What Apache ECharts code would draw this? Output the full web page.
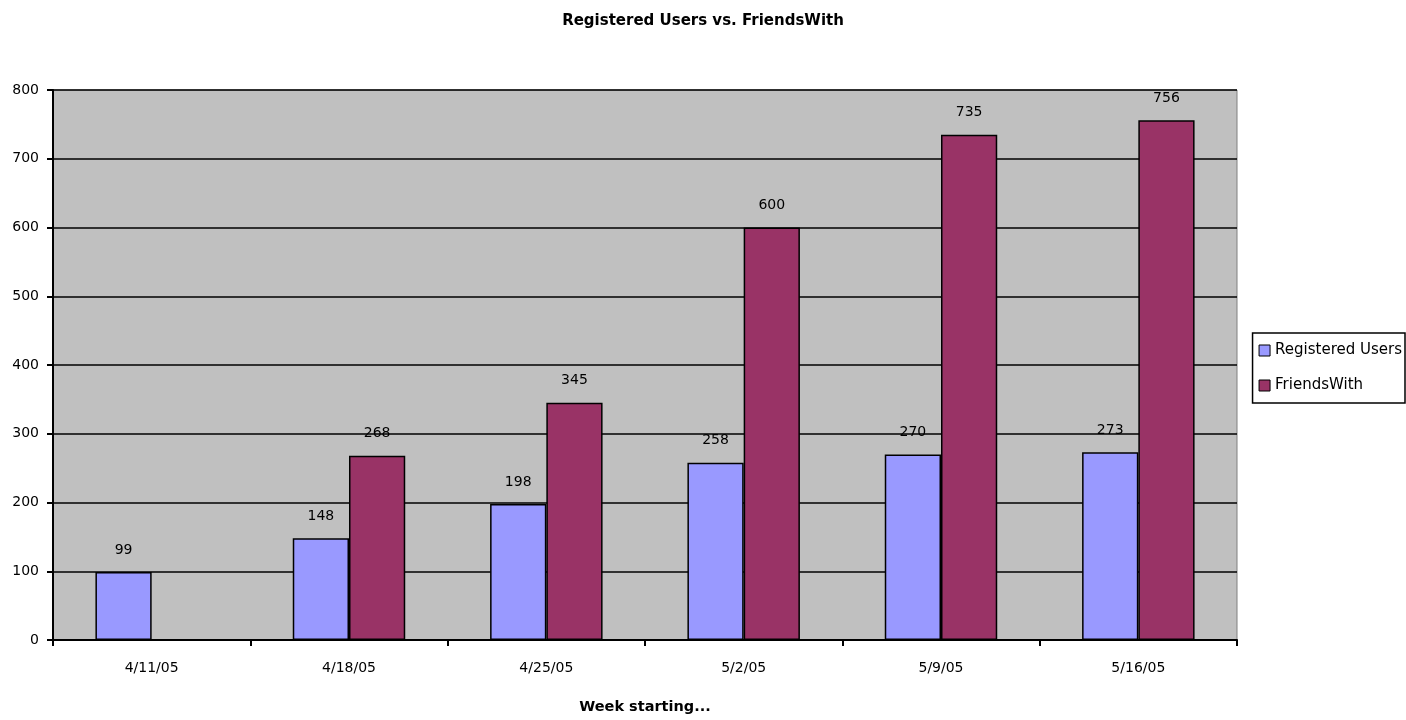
<!DOCTYPE html>
<html>
<head>
<meta charset="utf-8">
<script src="https://cdn.jsdelivr.net/npm/echarts@6/dist/echarts.min.js"></script>
<style>
  html, body { margin: 0; padding: 0; background: #ffffff; }
  #chart { width: 1406px; height: 720px; }
</style>
</head>
<body>
<div id="chart"></div>
<script>
// Weekly counts of registered users and FriendsWith connections
const weeks = ['4/11/05', '4/18/05', '4/25/05', '5/2/05', '5/9/05', '5/16/05'];
const registeredUsers = [99, 148, 198, 258, 270, 273];
const friendsWith = [null, 268, 345, 600, 735, 756];

const FONT = '"DejaVu Sans", "Liberation Sans", Arial, sans-serif';

const chart = echarts.init(document.getElementById('chart'), null, { renderer: 'canvas' });

const labelStyle = {
  show: true,
  position: 'top',
  distance: 15,
  color: '#000',
  fontFamily: FONT,
  fontSize: 14
};

chart.setOption({
  backgroundColor: '#ffffff',
  animation: false,
  title: {
    text: 'Registered Users vs. FriendsWith',
    left: 'center',
    top: 9,
    textStyle: { fontFamily: FONT, fontSize: 15, fontWeight: 'bold', color: '#000' }
  },
  legend: {
    orient: 'vertical',
    right: 1,
    top: 333,
    itemWidth: 11,
    itemHeight: 11,
    itemGap: 20,
    padding: [10, 3, 10, 6],
    borderColor: '#000',
    borderWidth: 1.5,
    backgroundColor: '#fff',
    icon: 'rect',
    textStyle: { fontFamily: FONT, fontSize: 15, color: '#000' },
    itemStyle: { borderColor: '#000', borderWidth: 1 },
    data: ['Registered Users', 'FriendsWith']
  },
  grid: {
    left: 53,
    right: 169,
    top: 90,
    bottom: 74,
    show: true,
    backgroundColor: '#c0c0c0',
    borderColor: '#808080',
    borderWidth: 1
  },
  xAxis: {
    type: 'category',
    data: weeks,
    name: 'Week starting...',
    nameLocation: 'middle',
    nameGap: 60,
    nameTextStyle: { fontFamily: FONT, fontSize: 14.5, fontWeight: 'bold', color: '#000' },
    axisLine: { lineStyle: { color: '#000', width: 2 } },
    axisTick: { show: true, inside: false, length: 6, lineStyle: { color: '#000', width: 2 } },
    axisLabel: { fontFamily: FONT, fontSize: 14, color: '#000', margin: 21 }
  },
  yAxis: {
    type: 'value',
    min: 0,
    max: 800,
    interval: 100,
    axisLine: { show: true, lineStyle: { color: '#000', width: 2 } },
    axisTick: { show: true, inside: false, length: 6, lineStyle: { color: '#000', width: 2 } },
    axisLabel: { fontFamily: FONT, fontSize: 14, color: '#000', margin: 14 },
    splitLine: { show: true, lineStyle: { color: '#000', width: 1.5 } }
  },
  series: [
    {
      name: 'Registered Users',
      type: 'bar',
      data: registeredUsers,
      barGap: '0%',
      barCategoryGap: '43%',
      itemStyle: { color: '#9999ff', borderColor: '#000', borderWidth: 1.5 },
      label: labelStyle
    },
    {
      name: 'FriendsWith',
      type: 'bar',
      data: friendsWith,
      barGap: '0%',
      barCategoryGap: '43%',
      itemStyle: { color: '#993366', borderColor: '#000', borderWidth: 1.5 },
      label: labelStyle
    }
  ]
});
</script>
</body>
</html>
